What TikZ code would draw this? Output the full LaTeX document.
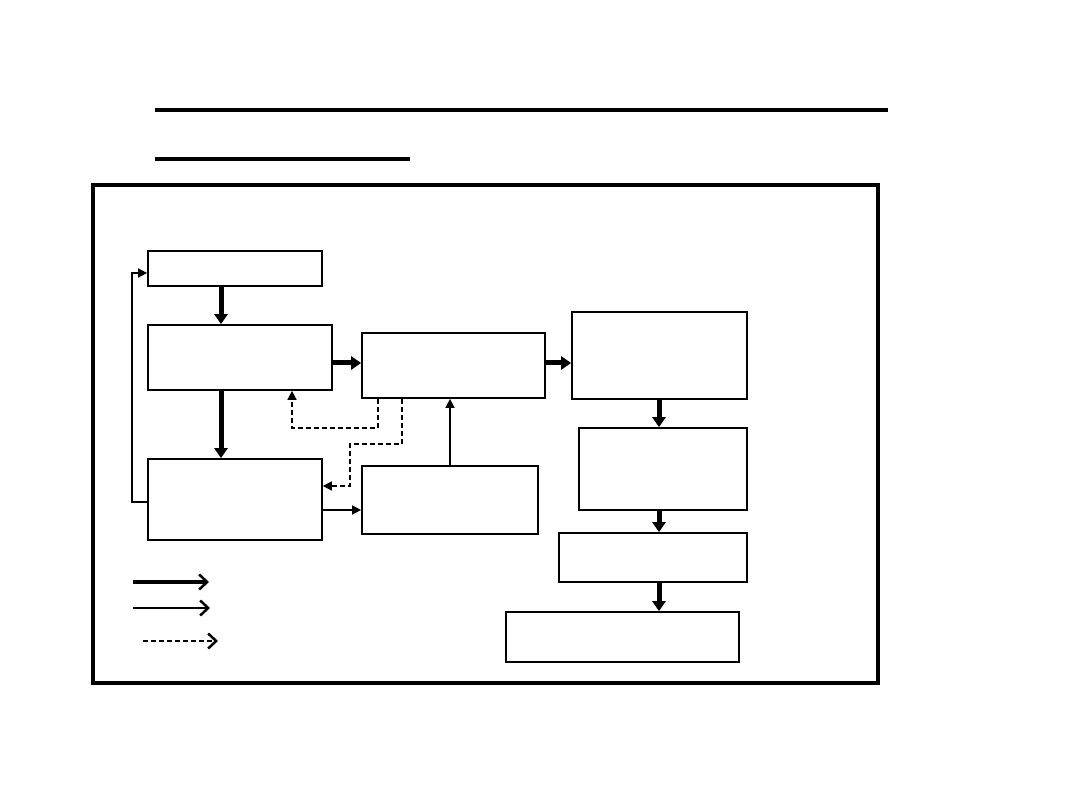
\documentclass[tikz,border=0pt]{standalone}
\usetikzlibrary{arrows.meta}
\begin{document}
\begin{tikzpicture}[x=1pt,y=-1pt,
  blk/.style={draw,line width=1.7pt,inner sep=0pt},
  thickarr/.style={line width=5pt,-{Triangle[length=10pt,width=13pt]}},
  thinarr/.style={line width=1.5pt,-{Triangle[length=9pt,width=9pt]}},
  dasharr/.style={line width=1.5pt,dash pattern=on 5pt off 3pt,-{Triangle[length=9pt,width=9pt]}},
  legarr/.style={-{Straight Barb[length=8pt,width=15pt,line width=2.5pt]}}]
\useasboundingbox (0,0) rectangle (1080,810);
% header lines
\draw[line width=3.5pt] (155,110) -- (888,110);
\draw[line width=3.5pt] (155,159) -- (410,159);
% frame
\draw[line width=3.5pt] (93,185) rectangle (878,683);
% boxes
\node[blk,minimum width=174pt,minimum height=35pt] (A) at (235,268.5) {};
\node[blk,minimum width=184pt,minimum height=65pt] (B) at (240,357.5) {};
\node[blk,minimum width=183pt,minimum height=65pt] (C) at (453.5,365.5) {};
\node[blk,minimum width=175pt,minimum height=87pt] (D) at (659.5,355.5) {};
\node[blk,minimum width=168pt,minimum height=82pt] (E) at (663,469) {};
\node[blk,minimum width=188pt,minimum height=49pt] (F) at (653,557.5) {};
\node[blk,minimum width=233pt,minimum height=50pt] (G) at (622.5,637) {};
\node[blk,minimum width=174pt,minimum height=81pt] (H) at (235,499.5) {};
\node[blk,minimum width=176pt,minimum height=68pt] (I) at (450,500) {};
% thick arrows
\draw[thickarr] (A.south -| 221,0) -- (B.north -| 221,0);
\draw[thickarr] (B.south -| 221,0) -- (H.north -| 221,0);
\draw[thickarr] (B.east |- 0,363) -- (C.west |- 0,363);
\draw[thickarr] (C.east |- 0,363) -- (D.west |- 0,363);
\draw[thickarr] (D.south -| 659,0) -- (E.north -| 659,0);
\draw[thickarr] (E.south -| 659,0) -- (F.north -| 659,0);
\draw[thickarr] (F.south -| 659,0) -- (G.north -| 659,0);
% thin arrows
\draw[thinarr] (H.west |- 0,502) -- (132,502) -- (132,273) -- (A.west |- 0,273);
\draw[thinarr] (H.east |- 0,510) -- (I.west |- 0,510);
\draw[thinarr] (I.north -| 450,0) -- (C.south -| 450,0);
% dashed arrows
\draw[dasharr] (C.south -| 378,0) -- (378,428) -- (292,428) -- (B.south -| 292,0);
\draw[dasharr] (C.south -| 402,0) -- (402,444) -- (350,444) -- (350,486) -- (H.east |- 0,486);
% legend
\coordinate (l1a) at (133,582); \coordinate (l1b) at (209,582);
\coordinate (l2a) at (133,608); \coordinate (l2b) at (210,608);
\coordinate (l3a) at (143,641); \coordinate (l3b) at (218,641);
\draw[legarr,line width=4pt] (l1a) -- (l1b);
\draw[legarr,line width=1.5pt] (l2a) -- (l2b);
\draw[legarr,line width=1.5pt,dash pattern=on 5pt off 3pt] (l3a) -- (l3b);
\end{tikzpicture}
\end{document}
